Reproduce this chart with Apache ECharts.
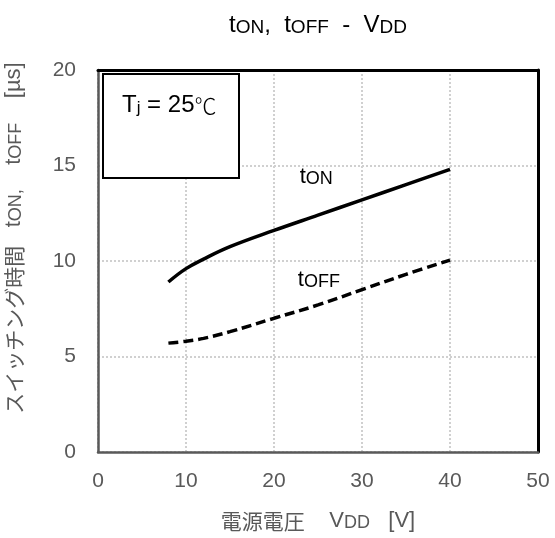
<!DOCTYPE html>
<html>
<head>
<meta charset="utf-8">
<script src="https://cdn.jsdelivr.net/npm/echarts@6/dist/echarts.min.js"></script>
<style>
  html, body { margin: 0; padding: 0; background: #fff; }
  #chart { width: 555px; height: 538px; }
</style>
</head>
<body>
<div id="chart"></div>
<script>
// Supply voltage VDD [V]
const vdd = [8, 10, 12, 15, 20, 25, 30, 35, 40];
// Turn-on switching time tON [µs]
const tOn = [8.9, 9.6, 10.1, 10.75, 11.6, 12.4, 13.2, 14.0, 14.8];
// Turn-off switching time tOFF [µs]
const tOff = [5.7, 5.8, 5.95, 6.3, 7.0, 7.7, 8.5, 9.3, 10.05];
// Axis ticks
const xTicks = [0, 10, 20, 30, 40, 50];
const yTicks = [0, 5, 10, 15, 20];

const font = 'Arial, "Liberation Sans", "Noto Sans CJK JP", sans-serif';
const cjk = '"Noto Sans CJK JP", sans-serif';
const grey = '#595959';

const pair = (xs, ys) => xs.map((x, i) => [x, ys[i]]);

// rich styles shared by the axis names
const nameRich = {
  c: { fontSize: 21, color: grey, fontFamily: cjk, verticalAlign: 'bottom', lineHeight: 28 },
  t: { fontSize: 22, color: grey, fontFamily: font, verticalAlign: 'bottom', lineHeight: 28 },
  s: { fontSize: 18, color: grey, fontFamily: font, verticalAlign: 'bottom', lineHeight: 22 }
};
const curveRich = {
  t: { fontSize: 22, color: '#000', fontFamily: font, verticalAlign: 'bottom', lineHeight: 28 },
  s: { fontSize: 18, color: '#000', fontFamily: font, verticalAlign: 'bottom', lineHeight: 18 }
};

const frameAxis = {
  type: 'value',
  axisLine: { show: true, onZero: false, lineStyle: { color: '#000', width: 3 } },
  axisTick: { show: false },
  axisLabel: { show: false },
  splitLine: { show: false }
};

const chart = echarts.init(document.getElementById('chart'));
chart.setOption({
  animation: false,
  backgroundColor: '#fff',
  title: {
    text: '{t|t}{s|ON}{t|,  t}{s|OFF}{t|  -  V}{s|DD}',
    left: 313,
    textAlign: 'center',
    top: 4,
    textStyle: {
      fontWeight: 'normal',
      fontFamily: font,
      rich: {
        t: { fontSize: 24, color: '#000', fontFamily: font, fontWeight: 'normal', verticalAlign: 'bottom', lineHeight: 28 },
        s: { fontSize: 19, color: '#000', fontFamily: font, fontWeight: 'normal', verticalAlign: 'bottom', lineHeight: 24 }
      }
    }
  },
  grid: {
    left: 98, right: 17, top: 70, bottom: 86,
    outerBoundsMode: 'none',
    containLabel: false,
    show: true,
    borderWidth: 0,
    backgroundColor: '#fff'
  },
  xAxis: [
    {
      type: 'value',
      min: xTicks[0],
      max: xTicks[xTicks.length - 1],
      interval: 10,
      name: '{c|電源電圧}{t|    V}{s|DD}{t|   [V]}',
      nameLocation: 'middle',
      nameGap: 52,
      nameTextStyle: { rich: nameRich },
      axisLine: { show: true, onZero: false, lineStyle: { color: grey, width: 2.5 } },
      axisTick: { show: false },
      axisLabel: { color: grey, fontSize: 21, fontFamily: font, margin: 19 },
      splitLine: { show: true, lineStyle: { color: '#d0d0d0', type: 'dotted', width: 2 } }
    },
    Object.assign({ position: 'top', min: xTicks[0], max: xTicks[xTicks.length - 1] }, frameAxis)
  ],
  yAxis: [
    {
      type: 'value',
      min: yTicks[0],
      max: yTicks[yTicks.length - 1],
      interval: 5,
      name: '{c|スイッチング時間}{t|   t}{s|ON,}{t|    t}{s|OFF}{t|    [µs]}',
      nameLocation: 'middle',
      nameGap: 73,
      nameTextStyle: { rich: nameRich, padding: [0, 0, 0, 46] },
      axisLine: { show: true, onZero: false, lineStyle: { color: grey, width: 2.5 } },
      axisTick: { show: false },
      axisLabel: { color: grey, fontSize: 21, fontFamily: font, margin: 22 },
      splitLine: { show: true, lineStyle: { color: '#d0d0d0', type: 'dotted', width: 2 } }
    },
    Object.assign({ position: 'right', min: yTicks[0], max: yTicks[yTicks.length - 1] }, frameAxis)
  ],
  series: [
    {
      name: 'tON',
      type: 'line',
      data: pair(vdd, tOn),
      smooth: 0.4,
      showSymbol: false,
      lineStyle: { color: '#000', width: 3.5 },
      markPoint: {
        symbol: 'circle', symbolSize: 0,
        data: [{ coord: [24.8, 14.55] }],
        label: { show: true, formatter: '{t|t}{s|ON}', rich: curveRich }
      }
    },
    {
      name: 'tOFF',
      type: 'line',
      data: pair(vdd, tOff),
      smooth: 0.4,
      showSymbol: false,
      lineStyle: { color: '#000', width: 3.5, type: [10, 5] },
      markPoint: {
        symbol: 'circle', symbolSize: 0,
        data: [{ coord: [25.1, 9.15] }],
        label: { show: true, formatter: '{t|t}{s|OFF}', rich: curveRich }
      }
    }
  ],
  graphic: [
    {
      type: 'rect',
      shape: { x: 103, y: 74, width: 136, height: 104 },
      style: { fill: '#fff', stroke: '#000', lineWidth: 2 },
      z: 10
    },
    {
      type: 'text',
      x: 122, y: 102,
      style: {
        text: '{t|T}{s|j}{t| = 25}{d|℃}',
        verticalAlign: 'middle',
        rich: {
          t: { fontSize: 24, color: '#000', fontFamily: font, verticalAlign: 'bottom', lineHeight: 30 },
          s: { fontSize: 17, color: '#000', fontFamily: font, verticalAlign: 'bottom', lineHeight: 16 },
          d: { fontSize: 22, color: '#000', fontFamily: cjk, fontWeight: 300, verticalAlign: 'bottom', lineHeight: 30 }
        }
      },
      z: 11
    }
  ]
});
</script>
</body>
</html>
